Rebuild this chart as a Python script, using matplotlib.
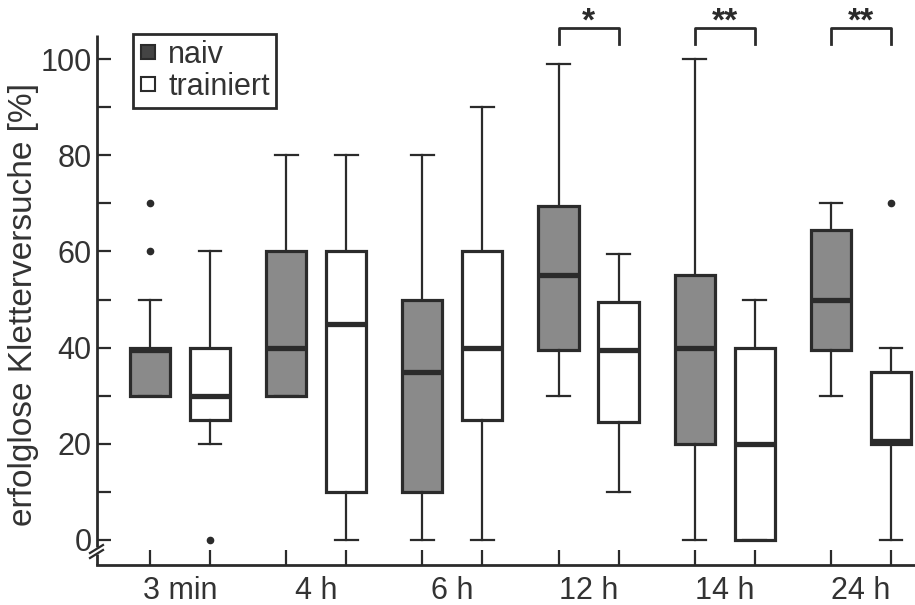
import numpy as np
import matplotlib.pyplot as plt
from matplotlib.lines import Line2D

plt.rcParams['font.family'] = ['Liberation Sans', 'DejaVu Sans']

# Daten
groups = ['3 min', '4 h', '6 h', '12 h', '14 h', '24 h']

naiv_low = [30, 30, 0, 30, 0, 30]
naiv_q1 = [30, 30, 10, 39.5, 20, 39.5]
naiv_med = [39.5, 40, 35, 55, 40, 50]
naiv_q3 = [40, 60, 50, 69.5, 55, 64.5]
naiv_high = [50, 80, 80, 99, 100, 70]
naiv_fliers = [[60, 70], [], [], [], [], []]

trained_low = [20, 0, 0, 10, 0, 0]
trained_q1 = [25, 10, 25, 24.5, 0, 20]
trained_med = [30, 45, 40, 39.5, 20, 20.5]
trained_q3 = [40, 60, 60, 49.5, 40, 35]
trained_high = [60, 80, 90, 59.5, 50, 40]
trained_fliers = [[0], [], [], [], [], [70]]

signif = {'12 h': '*', '14 h': '**', '24 h': '**'}

dark = '#2b2b2b'
gray = '#8a8a8a'


def make_stats(low, q1, med, q3, high, fliers):
    return [dict(whislo=a, q1=b, med=c, q3=d, whishi=e, fliers=f)
            for a, b, c, d, e, f in zip(low, q1, med, q3, high, fliers)]


step = 2.27
pos_naiv = np.arange(len(groups)) * step
pos_tr = pos_naiv + 1
centers = pos_naiv + 0.5

fig = plt.figure(figsize=(9.15, 6.05), dpi=100)
ax = fig.add_axes([97 / 915, 1 - 565 / 605, 818 / 915, 530 / 605])

common = dict(widths=0.67, capwidths=0.38, patch_artist=True,
              whiskerprops=dict(color=dark, linewidth=1.6),
              capprops=dict(color=dark, linewidth=1.6),
              medianprops=dict(color=dark, linewidth=3.8, solid_capstyle='butt'),
              flierprops=dict(marker='o', markersize=4.5, markerfacecolor=dark,
                              markeredgecolor=dark))

ax.bxp(make_stats(naiv_low, naiv_q1, naiv_med, naiv_q3, naiv_high, naiv_fliers),
       positions=pos_naiv,
       boxprops=dict(facecolor=gray, edgecolor=dark, linewidth=2.3), **common)
ax.bxp(make_stats(trained_low, trained_q1, trained_med, trained_q3, trained_high,
                  trained_fliers),
       positions=pos_tr,
       boxprops=dict(facecolor='white', edgecolor=dark, linewidth=2.3), **common)

ax.set_xlim(-0.883, 12.75)
ax.set_ylim(-5.2, 105)

# Achsen
for s in ['top', 'right', 'left']:
    ax.spines[s].set_visible(False)
ax.spines['bottom'].set_linewidth(2)
ax.spines['bottom'].set_color(dark)

yt = np.arange(0, 101, 10)
ax.set_yticks(yt, [str(v) if v % 20 == 0 else '' for v in yt])
ax.tick_params(axis='y', direction='in', length=10, width=1.6, color=dark,
               labelsize=22, pad=4, labelcolor='#333')

ax.set_xticks(np.sort(np.concatenate([pos_naiv, pos_tr])), [])
ax.set_xticks(centers, groups, minor=True)
ax.tick_params(axis='x', which='major', direction='in', length=11, width=1.6,
               color=dark)
ax.tick_params(axis='x', which='minor', length=0, pad=8, labelsize=22,
               labelcolor='#333')

# linke Achse mit Bruch
ya = lambda py: (565 - py) / 530
xa = lambda px: (px - 97) / 818
ax.plot([0, 0], [ya(547), 1], transform=ax.transAxes, color=dark, lw=2,
        clip_on=False, solid_capstyle='butt')
ax.plot([0, 0], [0, ya(554)], transform=ax.transAxes, color=dark, lw=2,
        clip_on=False, solid_capstyle='butt')
for dy in (0, 5):
    ax.plot([xa(90), xa(103)], [ya(553 + dy), ya(545 + dy)], transform=ax.transAxes,
            color=dark, lw=1.6, clip_on=False)

fig.text(24 / 915, 1 - 305 / 605, 'erfolglose Kletterversuche [%]', rotation=90,
         ha='center', va='center', fontsize=24, color='#333')

# Signifikanzklammern
for g, stars in signif.items():
    i = groups.index(g)
    x0, x1 = pos_naiv[i], pos_tr[i]
    ax.plot([x0, x0, x1, x1], [103.2, 106.4, 106.4, 103.2], color=dark, lw=2,
            clip_on=False)
    ax.text((x0 + x1) / 2, 106.0, stars, ha='center', va='baseline', fontsize=24,
            fontweight='bold', color=dark)

# Legende
handles = [Line2D([], [], marker='s', ls='none', markersize=10, mfc='#444',
                  mec=dark, mew=1.5),
           Line2D([], [], marker='s', ls='none', markersize=10, mfc='white',
                  mec=dark, mew=1.5)]
leg = ax.legend(handles, ['naiv', 'trainiert'], loc='upper left',
                bbox_to_anchor=(133 / 915, 1 - 34 / 605),
                bbox_transform=fig.transFigure, fancybox=False, framealpha=1,
                edgecolor=dark, fontsize=22, handlelength=0.6, handletextpad=0.35,
                borderpad=0.2, labelspacing=0.05, borderaxespad=0)
leg.get_frame().set_linewidth(2)
for t in leg.get_texts():
    t.set_color('#333')

fig.savefig('out.png', dpi=100)
